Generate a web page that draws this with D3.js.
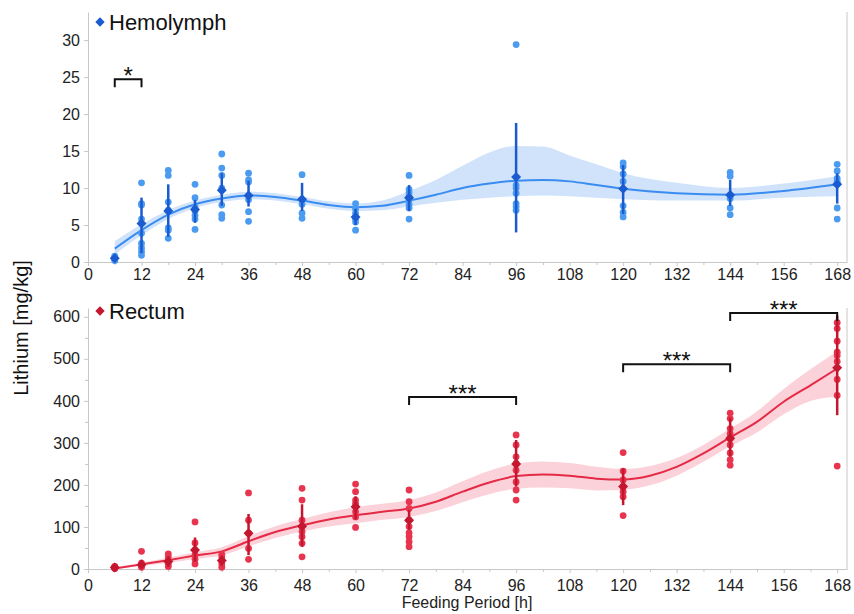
<!DOCTYPE html>
<meta charset="utf-8">
<script src="https://d3js.org/d3.v7.min.js"></script>
<style>
  body { margin: 0; background: #fff; }
  text { font-family: "Liberation Sans", Arial, sans-serif; }
</style>
<div id="chart"></div>
<script>

// sampling times [h]
var hours = [6, 12, 18, 24, 30, 36, 48, 60, 72, 96, 120, 144, 168];

// ---- Hemolymph ----
var hemoDots = [
  [0.2, 0.35, 0.5, 0.65, 0.8],
  [10.7, 7.9, 7.7, 5.8, 3.9, 2.5, 1.9, 1.4, 0.9],
  [12.4, 11.7, 8.1, 7.0, 4.6, 4.3, 3.2],
  [10.5, 8.7, 7.4, 6.9, 6.3, 5.8, 4.4],
  [14.6, 12.7, 11.7, 10.0, 7.7, 6.4, 5.9],
  [12.0, 11.1, 10.8, 8.4, 6.8, 5.5],
  [11.8, 8.4, 7.8, 6.6, 5.9],
  [7.9, 7.2, 6.6, 5.8, 5.4, 4.3],
  [11.7, 9.8, 9.4, 8.9, 8.4, 7.8, 7.3, 5.8],
  [29.4, 10.4, 10.0, 9.3, 7.9, 7.5, 7.0],
  [13.4, 12.9, 11.9, 10.9, 7.6, 6.7, 6.1],
  [12.1, 11.6, 9.05, 8.6, 7.3, 6.4],
  [13.2, 12.3, 11.3, 10.9, 10.5, 7.3, 5.8]
];
var hemoMean = [0.5, 5.2, 6.9, 7.1, 9.7, 9.0, 8.5, 6.1, 8.7, 11.5, 9.9, 9.05, 10.5];
var hemoLo   = [0.3, 1.2, 3.4, 5.3, 7.6, 7.5, 6.9, 5.0, 6.9, 4.0, 6.5, 7.6, 7.9];
var hemoHi   = [0.7, 8.7, 10.5, 8.4, 12.0, 11.0, 10.7, 7.2, 10.4, 18.8, 13.1, 11.1, 12.0];

var hemoFitT  = [6, 12, 18, 24, 30, 36, 42, 48, 54, 60, 66, 72, 78, 84, 90, 96, 102, 108, 114, 120, 132, 144, 156, 168];
var hemoFit   = [1.8, 4.3, 6.4, 7.8, 8.6, 9.0, 8.8, 8.3, 7.7, 7.4, 7.6, 8.3, 9.1, 10.0, 10.6, 11.0, 11.1, 10.9, 10.4, 9.9, 9.3, 9.1, 9.6, 10.5];
var hemoFitLo = [1.0, 3.6, 5.8, 7.3, 8.1, 8.5, 8.3, 7.8, 7.2, 6.9, 7.0, 7.5, 8.0, 8.4, 8.7, 8.9, 9.0, 8.9, 8.7, 8.5, 8.3, 8.3, 8.7, 8.9];
var hemoFitHi = [2.8, 5.1, 7.0, 8.3, 9.1, 9.5, 9.3, 8.8, 8.2, 7.9, 8.3, 9.6, 11.1, 13.0, 14.8, 15.7, 15.6, 14.4, 13.2, 12.0, 10.7, 10.0, 10.6, 11.6];

// ---- Rectum ----
var rectDots = [
  [1, 2, 3, 4, 5, 6],
  [42, 14, 7, 4],
  [36, 29, 20, 12, 6],
  [112, 62, 45, 33, 23, 12],
  [35, 29, 20, 12, 4],
  [181, 116, 85, 49, 23],
  [192, 164, 116, 101, 89, 77, 61, 29],
  [202, 184, 164, 156, 136, 124, 99],
  [188, 160, 144, 116, 101, 86, 77, 65, 53],
  [319, 295, 267, 251, 235, 207, 188, 164],
  [277, 233, 212, 196, 184, 172, 127],
  [371, 358, 334, 322, 310, 295, 276, 260, 247],
  [586, 572, 542, 516, 508, 494, 451, 413, 245]
];
var rectMean = [3.5, 10, 18, 45, 20, 85, 102, 148, 116, 250, 196, 311, 479];
var rectLo   = [1, 2, 5, 17, 8, 33, 53, 118, 93, 196, 152, 267, 366];
var rectHi   = [6, 22, 30, 75, 32, 131, 154, 173, 140, 307, 239, 360, 603];

var rectFitT  = [6, 12, 18, 24, 30, 36, 42, 48, 54, 60, 66, 72, 78, 84, 90, 96, 102, 108, 114, 120, 126, 132, 138, 144, 150, 156, 162, 168];
var rectFit   = [1, 11, 21, 32, 42, 66, 88, 104, 118, 128, 136, 144, 160, 184, 206, 221, 225, 222, 215, 213, 222, 243, 275, 313, 350, 398, 437, 477];
var rectFitLo = [0, 7, 15, 24, 32, 54, 74, 89, 101, 109, 117, 124, 138, 159, 178, 191, 194, 192, 187, 188, 199, 222, 255, 292, 325, 368, 400, 410];
var rectFitHi = [4, 15, 27, 40, 52, 78, 102, 119, 135, 147, 155, 164, 182, 209, 234, 251, 256, 252, 243, 238, 245, 264, 295, 334, 375, 428, 475, 518];

// significance brackets: [from, to, level, label]
var hemoSig = [[6, 12, 24.7, "*"]];
var rectSig = [[72, 96, 409, "***"], [120, 144, 487, "***"], [144, 168, 609, "***"]];

// ticks
var xTicks = [0, 12, 24, 36, 48, 60, 72, 84, 96, 108, 120, 132, 144, 156, 168];
var xMinor = [6, 18, 30, 42, 54, 66, 78, 90, 102, 114, 126, 138, 150, 162];
var hemoTicks = [0, 5, 10, 15, 20, 25, 30];
var rectTicks = [0, 100, 200, 300, 400, 500, 600];
var rectMinor = [50, 150, 250, 350, 450, 550];

var W = 854, H = 614;
var svg = d3.select("#chart").append("svg")
  .attr("width", W).attr("height", H);

var x = d3.scaleLinear().domain([0, 170.2]).range([88, 847]);
var yTop = d3.scaleLinear().domain([0, 33.8]).range([262, 12]);
var yBot = d3.scaleLinear().domain([0, 621]).range([569, 308]);

function drawPanel(o) {
  var y = o.y;
  var g = svg.append("g");
  var y0 = y.range()[0], y1 = y.range()[1];

  // right frame line
  g.append("line")
    .attr("x1", x.range()[1]).attr("x2", x.range()[1])
    .attr("y1", y0).attr("y2", y1)
    .attr("stroke", "#c8c8c8").attr("stroke-width", 1);

  // x axis
  g.append("g")
    .attr("transform", "translate(0," + y0 + ")")
    .call(d3.axisBottom(x).tickValues(xTicks).tickSize(4).tickSizeOuter(0).tickPadding(o.xPad));
  g.append("g")
    .attr("transform", "translate(0," + y0 + ")")
    .call(d3.axisBottom(x).tickValues(xMinor).tickSize(3).tickSizeOuter(0).tickFormat(""))
    .select(".domain").remove();

  // y axis
  g.append("g")
    .attr("transform", "translate(" + x.range()[0] + ",0)")
    .call(d3.axisLeft(y).tickValues(o.ticks).tickSize(4).tickSizeOuter(0).tickPadding(4));
  if (o.minor) {
    g.append("g")
      .attr("transform", "translate(" + x.range()[0] + ",0)")
      .call(d3.axisLeft(y).tickValues(o.minor).tickSize(3).tickSizeOuter(0).tickFormat(""))
      .select(".domain").remove();
  }
  g.selectAll(".domain, .tick line").attr("stroke", "#c8c8c8");
  g.selectAll(".tick text").attr("fill", "#222").style("font-size", "16px")
    .style("font-family", '"Liberation Sans", Arial, sans-serif');

  // confidence band
  var band = o.fitT.map(function(t, i) { return {t: t, lo: o.fitLo[i], hi: o.fitHi[i], m: o.fit[i]}; });
  g.append("path")
    .datum(band)
    .attr("fill", o.bandColor)
    .attr("d", d3.area()
      .x(function(d) { return x(d.t); })
      .y0(function(d) { return y(d.lo); })
      .y1(function(d) { return y(d.hi); })
      .curve(d3.curveMonotoneX));

  g.append("path")
    .datum(band)
    .attr("fill", "none")
    .attr("stroke", o.lineColor)
    .attr("stroke-width", 2)
    .attr("d", d3.line()
      .x(function(d) { return x(d.t); })
      .y(function(d) { return y(d.m); })
      .curve(d3.curveMonotoneX));

  // raw points
  var pts = [];
  hours.forEach(function(t, i) {
    o.dots[i].forEach(function(v) { pts.push({t: t, v: v}); });
  });
  g.selectAll(".pt").data(pts).enter().append("circle")
    .attr("cx", function(d) { return x(d.t); })
    .attr("cy", function(d) { return y(d.v); })
    .attr("r", 3.4)
    .attr("fill", o.dotColor);

  // error bars
  g.selectAll(".err").data(hours).enter().append("line")
    .attr("x1", function(d) { return x(d); })
    .attr("x2", function(d) { return x(d); })
    .attr("y1", function(d, i) { return y(o.lo[i]); })
    .attr("y2", function(d, i) { return y(o.hi[i]); })
    .attr("stroke", o.meanColor)
    .attr("stroke-width", 2.5);

  // means
  g.selectAll(".mean").data(hours).enter().append("path")
    .attr("d", d3.symbol().type(d3.symbolSquare).size(50))
    .attr("transform", function(d, i) {
      return "translate(" + x(d) + "," + y(o.mean[i]) + ") rotate(45)";
    })
    .attr("fill", o.meanColor);

  // significance brackets
  o.sig.forEach(function(s) {
    var yy = y(s[2]);
    g.append("path")
      .attr("d", "M" + x(s[0]) + "," + (yy + 8) + "V" + yy + "H" + x(s[1]) + "V" + (yy + 8))
      .attr("fill", "none")
      .attr("stroke", "#111")
      .attr("stroke-width", 2);
    g.append("text")
      .attr("x", (x(s[0]) + x(s[1])) / 2)
      .attr("y", yy + 5)
      .attr("text-anchor", "middle")
      .style("font-size", "24px")
      .attr("fill", "#111")
      .text(s[3]);
  });

  // legend
  g.append("path")
    .attr("d", d3.symbol().type(d3.symbolSquare).size(44))
    .attr("transform", "translate(100," + o.legY + ") rotate(45)")
    .attr("fill", o.meanColor);
  g.append("text")
    .attr("x", 109).attr("y", o.legY + 8)
    .style("font-size", "22px")
    .attr("fill", "#111")
    .text(o.name);
}

drawPanel({
  y: yTop, name: "Hemolymph", legY: 22,
  dots: hemoDots, mean: hemoMean, lo: hemoLo, hi: hemoHi,
  fitT: hemoFitT, fit: hemoFit, fitLo: hemoFitLo, fitHi: hemoFitHi,
  sig: hemoSig, ticks: hemoTicks, minor: null, xPad: 3,
  dotColor: "#4b9bf0", meanColor: "#1a5bd0", lineColor: "#3a8cf0", bandColor: "#d0e3fb"
});

drawPanel({
  y: yBot, name: "Rectum", legY: 311,
  dots: rectDots, mean: rectMean, lo: rectLo, hi: rectHi,
  fitT: rectFitT, fit: rectFit, fitLo: rectFitLo, fitHi: rectFitHi,
  sig: rectSig, ticks: rectTicks, minor: rectMinor, xPad: 7,
  dotColor: "#e8354f", meanColor: "#c4162f", lineColor: "#e52a45", bandColor: "#fbd2da"
});

// axis titles
svg.append("text")
  .attr("transform", "translate(28,328) rotate(-90)")
  .attr("text-anchor", "middle")
  .style("font-size", "20px")
  .attr("fill", "#111")
  .text("Lithium [mg/kg]");

svg.append("text")
  .attr("x", 467).attr("y", 608)
  .attr("text-anchor", "middle")
  .style("font-size", "16px")
  .attr("fill", "#222")
  .text("Feeding Period [h]");

</script>
